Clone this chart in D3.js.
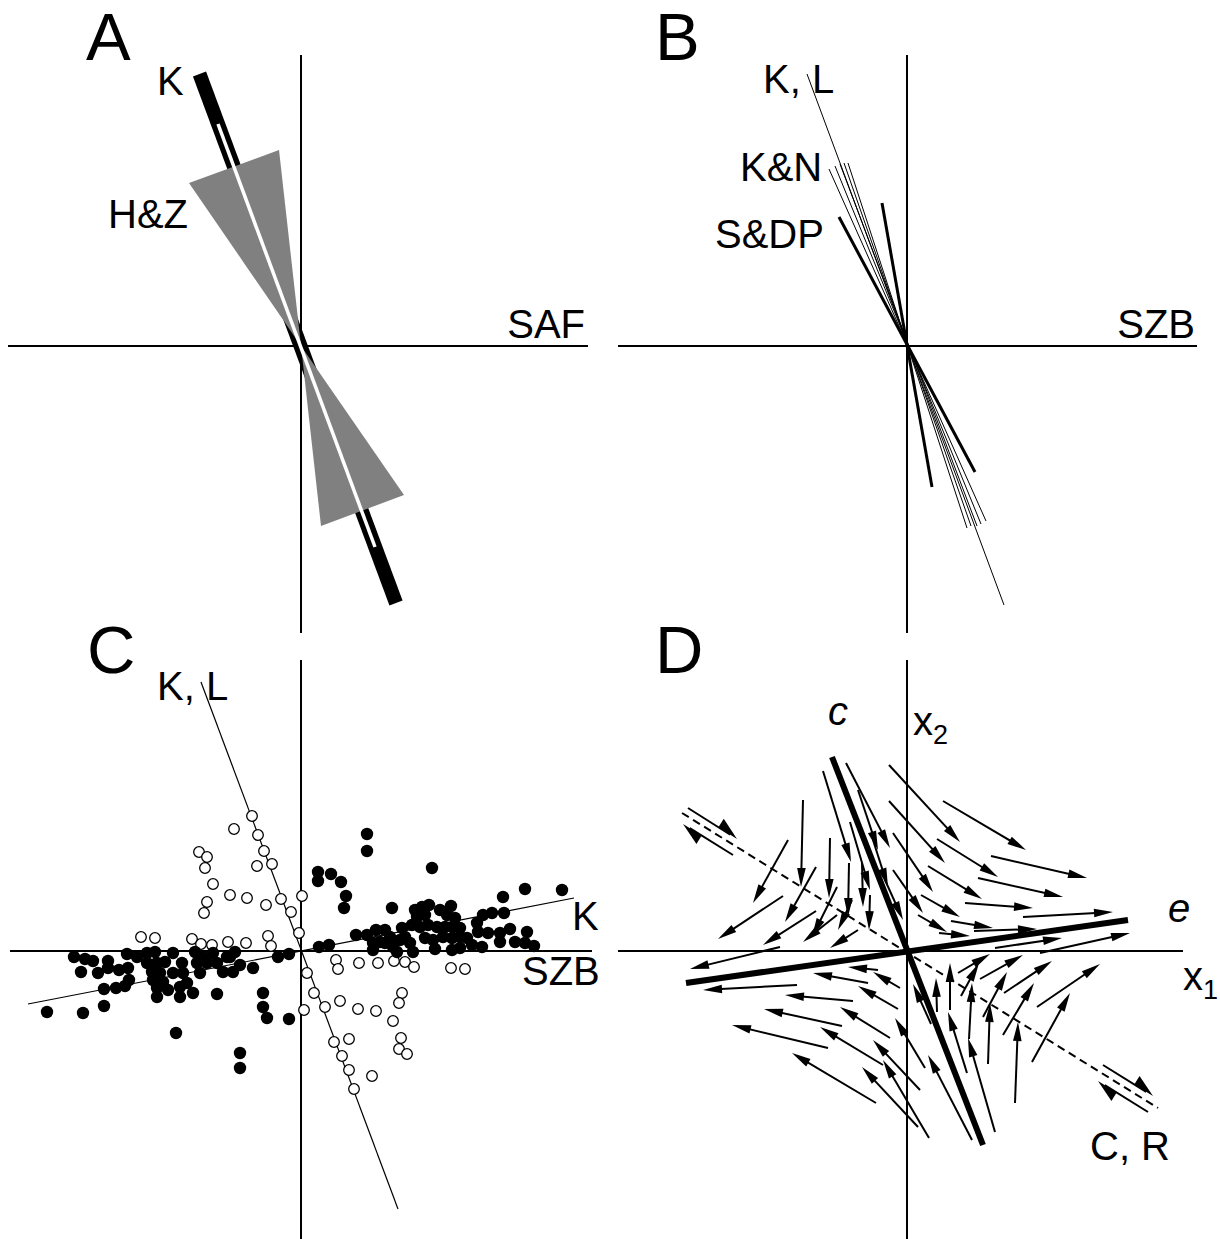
<!DOCTYPE html>
<html>
<head>
<meta charset="utf-8">
<script src="https://d3js.org/d3.v7.min.js"></script>
<style>
  body { margin: 0; background: #fff; }
  svg text { font-family: "Liberation Sans", Arial, Helvetica, sans-serif; fill: #000; }
</style>
</head>
<body>
<div id="chart"></div>
<script>
// ——— DATA —————————————————————————————————————————————————————————
// every panel uses the same local units: origin at the axis crossing, y up
const panelOrigins = { A: [301, 346], B: [907, 346], C: [301, 951], D: [907, 951] };

const axesA = [[-293, 287], [-287, 291]];
const axesB = [[-289, 290], [-287, 291]];
const axesC = [[-291, 291], [-288, 291]];
const axesD = [[-289, 276], [-288, 291]];

// A: K bar, its slot and the H&Z wedge
const kBar = [[-101.5, 272], [95, -257]];
const kSlot = [[-83, 222], [74, -201]];
const hzUpper = [[-112, 163], [-22, 196], [0, 0]];
const hzLower = [[103, -149], [20, -180], [0, 0]];

// B: directions
const klLine = [[-100, 272], [97, -259]];
const knLines = [
    [[-78, 177], [79, -175]],
    [[-72, 180], [74, -178]],
    [[-67, 182], [70, -180]],
    [[-63, 183], [64, -180]],
    [[-59, 183], [60, -182]]
];
const sdpLines = [
    [[-68, 129], [68, -126]],
    [[-25, 143], [25, -141]]
];

// C: fits and scatter
const cKL = [[-100, 269], [97, -258]];
const cK = [[-273, -53], [273, 53]];
const filledPts = [
    [-227, -6], [-216, -8], [-208, -10], [-193, -10], [-220, -21], [-203, -22], [-193, -17], [-182, -19],
    [-173, -17], [-174, -3], [-172, -29], [-176, -35], [-185, -37], [-197, -38], [-197, -55], [-218, -62],
    [-254, -61], [-164, -6], [-154, -2], [-146, -1], [-154, -12], [-144, -12], [-136, -11], [-149, -21],
    [-141, -22], [-148, -29], [-138, -31], [-144, -37], [-133, -39], [-144, -46], [-121, -46], [-128, -2],
    [-119, -12], [-128, -22], [-118, -22], [-114, -32], [-108, -42], [-121, -36], [-106, -1], [-98, -6],
    [-88, -2], [-104, -12], [-94, -12], [-101, -22], [-84, -12], [-78, -21], [-71, -6], [-66, -1],
    [-68, -21], [-61, -14], [-48, -17], [-84, -43], [-38, -42], [-38, -56], [-34, -67], [-12, -68],
    [-23, -6], [-12, -3], [-74, -6], [-125, -82], [-61, -102], [-61, -117],
    [66, 117], [66, 100], [17, 79], [17, 70], [30, 77], [40, 69], [45, 55], [43, 43],
    [131, 83], [91, 43], [18, 4], [28, 6], [55, 16], [66, 16], [75, 21], [84, 21],
    [72, 8], [79, 9], [72, 1], [89, 14], [92, 4], [101, 23], [104, 14], [109, 8],
    [112, -1], [114, 41], [121, 44], [128, 46], [116, 34], [124, 36], [139, 41], [146, 36],
    [150, 45], [154, 33], [111, 26], [119, 24], [127, 26], [136, 24], [144, 24], [152, 24],
    [159, 23], [124, 13], [132, 11], [142, 14], [151, 13], [159, 14], [134, 2], [151, 1],
    [159, 3], [166, 13], [171, 6], [181, 4], [177, 19], [176, 28], [182, 36], [191, 38],
    [202, 54], [203, 38], [187, 18], [199, 18], [199, 9], [209, 22], [214, 9], [224, 8],
    [226, 19], [233, 5], [224, 62], [261, 61], [99, 11], [84, 8], [96, -1]
];
const openPts = [
    [-49, 135], [-67, 122], [-43, 116], [-37, 100], [-102, 99], [-94, 94], [-96, 83], [-44, 85],
    [-29, 87], [-88, 67], [-94, 49], [-97, 38], [-71, 56], [-54, 53], [-35, 46], [-20, 52],
    [-10, 39], [1, 55], [-2, 18], [-160, 14], [-146, 13], [-109, 12], [-100, 7], [-89, 6],
    [-73, 9], [-55, 8], [-33, 15], [-30, 5], [6, -22], [3, -59], [35, -9], [37, -18],
    [58, -12], [77, -12], [93, -10], [104, -11], [113, -16], [150, -17], [164, -18], [13, -42],
    [24, -56], [39, -50], [57, -58], [75, -60], [101, -42], [98, -52], [92, -70], [33, -91],
    [48, -88], [100, -87], [98, -98], [106, -103], [41, -105], [48, -119], [71, -125], [53, -138]
];

// D: eigen-directions, shear plane and the flow field (tail x, tail y, head x, head y)
const cAxis = [[-75, 194], [76, -194]];
const eAxis = [[-221, -32], [221, 31]];
const shearPlane = [[-225, 138], [251, -157]];
const halfArrows = [
    [-219, 143, -170, 112], [-174, 96, -224, 127],
    [196, -114, 246, -145], [241, -161, 191, -130]
];
const flow = [
    [-104, 151, -106, 64], [-119, 111, -154, 48], [-91, 84, -122, 29], [-124, 55, -189, 12],
    [-91, 40, -144, 6], [-77, 113, -78, 53], [-70, 64, -95, 14], [-84, 180, -56, 89],
    [-61, 188, -17, 103], [-57, 129, -37, 61], [-58, 88, -59, 34], [-45, 88, -44, 44],
    [-37, 56, -38, 21], [-34, 111, -19, 64], [-18, 186, 53, 109], [-18, 150, 38, 88],
    [-14, 118, 26, 59], [-14, 81, 16, 38], [-70, 36, -104, 9], [-49, 21, -77, 3],
    [-49, 161, -29, 101], [-22, 71, -4, 31], [-55, 51, -69, 21],
    [36, 150, 119, 101], [30, 112, 91, 74], [84, 95, 180, 73], [21, 85, 75, 52],
    [71, 73, 156, 54], [14, 56, 53, 34], [58, 48, 126, 43], [116, 34, 206, 39],
    [44, 30, 86, 23], [67, 20, 130, 22], [32, 18, 63, 15], [11, 36, 40, 19],
    [88, 3, 155, 13], [133, -2, 223, 18],
    [108, -152, 111, -71], [125, -111, 163, -42], [130, -56, 193, -13], [96, -84, 127, -32],
    [97, -42, 145, -10], [81, -113, 83, -52], [76, -66, 100, -21], [73, -28, 116, -4],
    [62, -88, 65, -32], [51, -22, 83, -3], [54, -45, 72, -12], [43, -59, 43, -12],
    [30, -61, 29, -27], [60, -122, 41, -61], [88, -181, 61, -87], [65, -189, 21, -104],
    [18, -117, -12, -67], [22, -187, -24, -109], [24, -73, 6, -33],
    [-127, 4, -217, -18], [-29, -19, -59, -16], [-110, -34, -204, -39], [-39, -32, -94, -22],
    [-7, -37, -34, -21], [-54, -50, -122, -44], [-9, -58, -49, -35], [-65, -75, -143, -58],
    [-17, -87, -67, -56], [-79, -97, -175, -74], [-24, -114, -87, -76], [-31, -152, -115, -102],
    [13, -139, -34, -89], [11, -176, -45, -116]
];

// labels: panel, text, x, y, anchor, style
const labels = [
    ["A", "K", -144, 251, "start", ""], ["A", "H&Z", -193, 118, "start", ""], ["A", "SAF", 284, 8, "end", ""],
    ["B", "K, L", -144, 253, "start", ""], ["B", "K&N", -167, 165, "start", ""], ["B", "S&DP", -192, 98, "start", ""],
    ["B", "SZB", 288, 8, "end", ""],
    ["C", "K, L", -144, 251, "start", ""], ["C", "K", 271, 21, "start", ""], ["C", "SZB", 221, -34, "start", ""],
    ["D", "c", -79, 226, "start", "italic"], ["D", "e", 261, 29, "start", "italic"], ["D", "C, R", 183, -209, "start", ""]
];
const subLabels = [["D", "x", "2", 6, 216], ["D", "x", "1", 276, -39]];
const panelLetters = [["A", -215, 286], ["B", -252, 286], ["C", -214, 278], ["D", -252, 278]];

// ——— SETUP ————————————————————————————————————————————————————————
const width = 1220;
const height = 1239;
const half = 290;

const svg = d3.select("#chart").append("svg")
    .attr("width", width)
    .attr("height", height);

const scales = {};
Object.keys(panelOrigins).forEach((k) => {
    const [cx, cy] = panelOrigins[k];
    scales[k] = {
        x: d3.scaleLinear().domain([-half, half]).range([cx - half, cx + half]),
        y: d3.scaleLinear().domain([-half, half]).range([cy + half, cy - half])
    };
});

function seg(g, s, pts, w, color) {
    return g.append("line")
        .attr("x1", s.x(pts[0][0])).attr("y1", s.y(pts[0][1]))
        .attr("x2", s.x(pts[1][0])).attr("y2", s.y(pts[1][1]))
        .attr("stroke", color || "#000")
        .attr("stroke-width", w);
}

function drawAxes(k, ax) {
    const s = scales[k];
    const g = svg.append("g").attr("class", "axes-" + k);
    seg(g, s, [[ax[0][0], 0], [ax[0][1], 0]], 2);
    seg(g, s, [[0, ax[1][0]], [0, ax[1][1]]], 2);
}

const poly = (s) => d3.line().x((d) => s.x(d[0])).y((d) => s.y(d[1]));

// ——— PANEL A ——————————————————————————————————————————————————————
drawAxes("A", axesA);
const gA = svg.append("g");
seg(gA, scales.A, kBar, 14).attr("stroke-linecap", "butt");
[hzUpper, hzLower].forEach((tri) => {
    gA.append("path")
        .attr("d", poly(scales.A)(tri) + "Z")
        .attr("fill", "#808080");
});
seg(gA, scales.A, kSlot, 3.5, "#fff");

// ——— PANEL B ——————————————————————————————————————————————————————
drawAxes("B", axesB);
const gB = svg.append("g");
seg(gB, scales.B, klLine, 1);
knLines.forEach((l) => seg(gB, scales.B, l, 1));
sdpLines.forEach((l) => seg(gB, scales.B, l, 3));

// ——— PANEL C ——————————————————————————————————————————————————————
drawAxes("C", axesC);
const gC = svg.append("g");
seg(gC, scales.C, cKL, 1.2);
seg(gC, scales.C, cK, 1.2);
gC.selectAll("circle.open")
    .data(openPts)
    .enter()
    .append("circle")
    .attr("class", "open")
    .attr("cx", (d) => scales.C.x(d[0]))
    .attr("cy", (d) => scales.C.y(d[1]))
    .attr("r", 5.3)
    .attr("fill", "#fff")
    .attr("stroke", "#000")
    .attr("stroke-width", 1.3);
gC.selectAll("circle.filled")
    .data(filledPts)
    .enter()
    .append("circle")
    .attr("class", "filled")
    .attr("cx", (d) => scales.C.x(d[0]))
    .attr("cy", (d) => scales.C.y(d[1]))
    .attr("r", 6.2)
    .attr("fill", "#000");

// ——— PANEL D ——————————————————————————————————————————————————————
drawAxes("D", axesD);
const gD = svg.append("g");
const sD = scales.D;

function arrow(g, d, halfHead) {
    const x1 = sD.x(d[0]), y1 = sD.y(d[1]), x2 = sD.x(d[2]), y2 = sD.y(d[3]);
    const len = Math.hypot(x2 - x1, y2 - y1);
    const ux = (x2 - x1) / len, uy = (y2 - y1) / len;
    const hl = halfHead ? 22 : 19;
    const bx = x2 - ux * hl, by = y2 - uy * hl;
    const nx = uy, ny = -ux;
    g.append("line")
        .attr("x1", x1).attr("y1", y1)
        .attr("x2", x2 - ux * 8).attr("y2", y2 - uy * 8)
        .attr("stroke", "#000")
        .attr("stroke-width", 2);
    const pts = halfHead
        ? [[x2, y2], [bx + nx * 10, by + ny * 10], [bx, by]]
        : [[x2, y2], [bx + nx * 4.3, by + ny * 4.3], [bx - nx * 4.3, by - ny * 4.3]];
    g.append("path")
        .attr("d", d3.line()(pts) + "Z")
        .attr("fill", "#000");
}

seg(gD, sD, shearPlane, 2).attr("stroke-dasharray", "8,5");
flow.forEach((d) => arrow(gD, d, false));
halfArrows.forEach((d) => arrow(gD, d, true));
seg(gD, sD, cAxis, 6);
seg(gD, sD, eAxis, 6);

// ——— LABELS ———————————————————————————————————————————————————————
labels.forEach(([p, t, x, y, anchor, style]) => {
    svg.append("text")
        .attr("x", scales[p].x(x))
        .attr("y", scales[p].y(y))
        .attr("text-anchor", anchor)
        .style("font-size", "40px")
        .style("font-style", style || "normal")
        .text(t);
});

subLabels.forEach(([p, t, sub, x, y]) => {
    const txt = svg.append("text")
        .attr("x", scales[p].x(x))
        .attr("y", scales[p].y(y))
        .style("font-size", "40px");
    txt.append("tspan").text(t);
    txt.append("tspan")
        .attr("dy", 9)
        .style("font-size", "27px")
        .text(sub);
});

panelLetters.forEach(([p, x, y]) => {
    svg.append("text")
        .attr("x", scales[p].x(x))
        .attr("y", scales[p].y(y))
        .style("font-size", "67px")
        .text(p);
});
</script>
</body>
</html>
